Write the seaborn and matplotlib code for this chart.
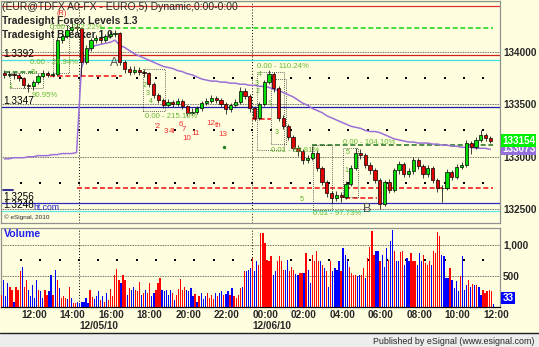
import numpy as np
import matplotlib
matplotlib.use("Agg")
import matplotlib.pyplot as plt
import matplotlib.transforms as mtransforms
from matplotlib.patches import Rectangle
from matplotlib.lines import Line2D
import seaborn as sns

sns.set_style("white")
plt.rcParams['font.family'] = ['Liberation Sans', 'DejaVu Sans']

# ---------------- data ----------------
first_open = 1.3380
close = [1.3378, 1.3379, 1.3378, 1.3375, 1.3368, 1.3367, 1.3371, 1.3377, 1.3380, 1.3378,
         1.3379, 1.3411, 1.3415, 1.3421, 1.3424, 1.3423, 1.3390, 1.3404, 1.3411, 1.3413,
         1.3411, 1.3415, 1.3417, 1.3418, 1.3390, 1.3384, 1.3381, 1.3383, 1.3381, 1.3380,
         1.3369, 1.3359, 1.3354, 1.3349, 1.3352, 1.3350, 1.3353, 1.3348, 1.3342, 1.3343,
         1.3346, 1.3351, 1.3353, 1.3356, 1.3354, 1.3350, 1.3345, 1.3349, 1.3352, 1.3363,
         1.3358, 1.3346, 1.3337, 1.3350, 1.3371, 1.3379, 1.3365, 1.3337, 1.3329, 1.3319,
         1.3308, 1.3305, 1.3297, 1.3299, 1.3304, 1.3289, 1.3276, 1.3265, 1.3261, 1.3264,
         1.3262, 1.3274, 1.3289, 1.3304, 1.3302, 1.3292, 1.3287, 1.3278, 1.3255, 1.3276,
         1.3268, 1.3287, 1.3293, 1.3284, 1.3286, 1.3297, 1.3291, 1.3284, 1.3289, 1.3278,
         1.3270, 1.3270, 1.3285, 1.3281, 1.3290, 1.3292, 1.3313, 1.3309, 1.3316, 1.3321,
         1.3318, 1.3315]
high = [1.3383, 1.3382, 1.3381, 1.3380, 1.3376, 1.3370, 1.3373, 1.3379, 1.3383, 1.3382,
        1.3381, 1.3414, 1.3418, 1.3425, 1.3430, 1.3427, 1.3424, 1.3406, 1.3413, 1.3416,
        1.3415, 1.3417, 1.3420, 1.3421, 1.3419, 1.3392, 1.3386, 1.3386, 1.3385, 1.3384,
        1.3381, 1.3371, 1.3361, 1.3356, 1.3355, 1.3354, 1.3356, 1.3355, 1.3349, 1.3346,
        1.3348, 1.3353, 1.3356, 1.3359, 1.3358, 1.3356, 1.3352, 1.3351, 1.3355, 1.3366,
        1.3365, 1.3360, 1.3348, 1.3352, 1.3373, 1.3383, 1.3381, 1.3367, 1.3340, 1.3331,
        1.3321, 1.3311, 1.3307, 1.3302, 1.3310, 1.3306, 1.3291, 1.3278, 1.3267, 1.3267,
        1.3266, 1.3277, 1.3292, 1.3308, 1.3307, 1.3304, 1.3295, 1.3289, 1.3280, 1.3278,
        1.3279, 1.3289, 1.3296, 1.3295, 1.3289, 1.3300, 1.3299, 1.3293, 1.3292, 1.3291,
        1.3280, 1.3273, 1.3288, 1.3287, 1.3293, 1.3295, 1.3316, 1.3315, 1.3319, 1.3325,
        1.3323, 1.3320]
low = [1.3375, 1.3376, 1.3374, 1.3372, 1.3365, 1.3362, 1.3364, 1.3369, 1.3375, 1.3376,
       1.3376, 1.3377, 1.3408, 1.3413, 1.3419, 1.3419, 1.3377, 1.3388, 1.3401, 1.3408,
       1.3408, 1.3409, 1.3413, 1.3414, 1.3387, 1.3380, 1.3378, 1.3379, 1.3378, 1.3376,
       1.3366, 1.3356, 1.3351, 1.3346, 1.3347, 1.3347, 1.3348, 1.3345, 1.3339, 1.3340,
       1.3341, 1.3344, 1.3349, 1.3351, 1.3351, 1.3347, 1.3341, 1.3343, 1.3347, 1.3350,
       1.3355, 1.3343, 1.3334, 1.3335, 1.3348, 1.3369, 1.3362, 1.3334, 1.3326, 1.3316,
       1.3305, 1.3301, 1.3293, 1.3294, 1.3297, 1.3286, 1.3273, 1.3262, 1.3256, 1.3258,
       1.3257, 1.3260, 1.3272, 1.3287, 1.3298, 1.3289, 1.3284, 1.3275, 1.3250, 1.3253,
       1.3265, 1.3266, 1.3284, 1.3281, 1.3281, 1.3284, 1.3288, 1.3280, 1.3281, 1.3275,
       1.3266, 1.3257, 1.3268, 1.3278, 1.3279, 1.3288, 1.3290, 1.3303, 1.3307, 1.3314,
       1.3315, 1.3313]
ma = [1.3298, 1.3298, 1.3299, 1.3299, 1.3299, 1.3300, 1.3300, 1.3301, 1.3301, 1.3301,
      1.3302, 1.3302, 1.3303, 1.3303, 1.3303, 1.3304, 1.3384, 1.3397, 1.3404, 1.3406,
      1.3407, 1.3408, 1.3409, 1.3411, 1.3406, 1.3404, 1.3401, 1.3398, 1.3396, 1.3394,
      1.3392, 1.3390, 1.3388, 1.3386, 1.3385, 1.3384, 1.3382, 1.3381, 1.3379, 1.3378,
      1.3376, 1.3374, 1.3373, 1.3372, 1.3372, 1.3371, 1.3371, 1.3370, 1.3370, 1.3369,
      1.3369, 1.3368, 1.3368, 1.3367, 1.3367, 1.3366, 1.3364, 1.3363, 1.3361, 1.3359,
      1.3357, 1.3354, 1.3351, 1.3349, 1.3346, 1.3344, 1.3342, 1.3339, 1.3337, 1.3335,
      1.3333, 1.3331, 1.3329, 1.3328, 1.3327, 1.3325, 1.3324, 1.3324, 1.3323, 1.3321,
      1.3319, 1.3317, 1.3316, 1.3315, 1.3314, 1.3314, 1.3313, 1.3313, 1.3313, 1.3312,
      1.3312, 1.3311, 1.3311, 1.3310, 1.3310, 1.3309, 1.3309, 1.3309, 1.3308, 1.3308,
      1.3308, 1.3307]

volume = [190, 435, 163, 380, 310, 270, 80, 325, 270, 570,
          650, 325, 435, 270, 163, 350, 135, 435, 270, 255,
          135, 270, 190, 245, 515, 190, 600, 435, 300, 135,
          163, 135, 120, 325, 135, 55, 55, 80, 55, 70,
          80, 135, 55, 270, 150, 125, 163, 255, 110, 163,
          80, 217, 110, 290, 163, 515, 615, 435, 380, 515,
          435, 190, 300, 270, 325, 270, 245, 400, 190, 217,
          270, 217, 380, 163, 217, 270, 380, 470, 270, 245,
          270, 190, 270, 217, 110, 190, 280, 450, 270, 310,
          270, 245, 300, 163, 200, 80, 163, 217, 125, 163,
          217, 135, 180, 125, 217, 163, 217, 255, 190, 200,
          245, 190, 300, 163, 135, 190, 300,
          310, 570, 580, 600, 625, 790, 570, 735, 680, 1195,
          1195, 1030, 760, 735, 815, 515, 570, 735, 815, 735,
          600, 600, 760, 570, 635, 600, 527, 515, 543, 543,
          543, 870, 600, 380, 840, 735, 895, 735, 735, 680,
          625, 570, 325, 745, 570, 625, 600, 735, 570, 950,
          840, 760, 650, 543, 515, 515, 500, 515, 515, 625,
          460, 790, 960, 1220, 840, 895, 895, 735, 840, 650,
          950, 760, 1060, 1250, 895, 735, 735, 885, 895, 680,
          790, 735, 870, 735, 745, 680, 870, 745, 840, 705,
          680, 735, 680, 895, 870, 1210, 1140, 840, 815, 460,
          460, 625, 435, 300, 407, 245, 490, 815, 270, 350,
          435, 325, 365, 350, 350, 325, 190, 270, 217, 255,
          270, 245, 33]
vol_dir = ("RBBBRRBRRR" "BRRBBBBBRB" "BRRBBRBRBR" "RRBRBRRBBB" "BBBRRBBBRB"
           "RBRRRRRRBR" "RBRBBRRRBR" "BRRBBRRRBB" "BBBRBRRRRR" "BBBBRBRBBB"
           "RRRRBRBBRB" "BRBRRRR"
           "BRBBBRBBRR" "RRRRRBBRRR" "RBBRRRBBRR" "BRBBRRRRBR" "BRBRBBBBRB"
           "BBRRRRBBRR" "BRRRRBBRBB" "BRBBRBBRRB" "BBRRRBBBRR" "RRBRRRRBBB"
           "BRBBBBRBBB" "RBRBRBBRRR" "RRB")

last_price = 1.33154
last_ma = 1.33073
last_volume = 33

time_labels = ["12:00", "14:00", "16:00", "18:00", "20:00", "22:00", "00:00",
               "02:00", "04:00", "06:00", "08:00", "10:00", "12:00"]
date_labels = ["12/05/10", "12/06/10"]
session_breaks = [48, 156]          # bar index where each date starts
price_ticks = [1.340, 1.335, 1.330, 1.325]
price_tick_labels = ["134000", "133500", "133000", "132500"]
vol_ticks = [1000, 500]
vol_tick_labels = ["1,000", "500"]

# horizontal levels
full_levels = [(1.3448, '#33CC33'), (1.3444, '#E03030'), (1.3397, '#D02020'),
               (1.3392, '#40E0E0'), (1.3347, '#1A1AB0'), (1.3256, '#2A2AC0'),
               (1.3248, '#60E8E8')]
seg_levels = [(1.3423, 61, 306, '#22DD22'), (1.3381, 2, 22, '#2E8B2E'),
              (1.3377, 30, 75, '#EE2020'), (1.3336, 156, 168, '#EE2020'),
              (1.3311, 193, 306, '#2E7D2E'), (1.3270, 47, 306, '#EE2020'),
              (1.3261, 214, 234, '#EE2020')]
left_level_labels = ["1.3392", "1.3347", "1.3256", "1.3248"]
left_level_values = [1.3392, 1.3347, 1.3256, 1.3248]

# ---------------- layout ----------------
W, H = 539, 347
BG = '#FFFFE0'
fig = plt.figure(figsize=(W / 100, H / 100), dpi=100, facecolor=BG)


def fbox(x0, y0, x1, y1):
    return [x0 / W, 1 - y1 / H, (x1 - x0) / W, (y1 - y0) / H]


XLIM = (-0.62, 310.5)
ax = fig.add_axes(fbox(1, 1, 500, 223))
axv = fig.add_axes(fbox(1, 228, 500, 307))
for a in (ax, axv):
    a.set_facecolor(BG)
    a.set_xlim(*XLIM)
    for s in a.spines.values():
        s.set_color('#909090')
        s.set_linewidth(0.9)
axv.spines['bottom'].set_color('black')
ax.set_ylim(1.323686, 1.344829)
axv.set_ylim(-8, 1276)

# ---------------- price panel ----------------
close = np.array(close)
high = np.array(high)
low = np.array(low)
cx = np.arange(len(close)) * 3 + 1.5
opens = np.r_[first_open, close[:-1]]
up = close >= opens

# grid
for p in price_ticks:
    ax.axhline(p, color='#404040', lw=0.6, ls=(0, (1, 1)), zorder=1)
dot_x = np.arange(12, 311, 12)
for p in [1.3375, 1.3325, 1.3275]:
    sns.scatterplot(x=dot_x, y=np.full(len(dot_x), p), ax=ax, color='black', s=1.0,
                    marker='s', linewidth=0, legend=False, zorder=1)
for b in session_breaks:
    for a in (ax, axv):
        a.axvline(b, color='black', lw=0.7, ls=(0, (1, 2)), zorder=1)

# levels
for p, c in full_levels:
    ax.axhline(p, color=c, lw=0.9, zorder=2)
for p, b0, b1, c in seg_levels:
    ax.hlines(p, b0, b1, color=c, lw=1.2, ls=(0, (3, 1.6)), zorder=2)

# dotted boxes
boxes = [(5, 25.6, 1.3365, 1.3380), (32, 42, 1.3380, 1.3425), (88, 101.6, 1.3344, 1.3384),
         (159, 176, 1.3306, 1.3381), (168, 177, 1.3312, 1.3374), (194, 206, 1.3249, 1.3311),
         (212.6, 222, 1.3262, 1.3308)]
for b0, b1, p0, p1 in boxes:
    ax.add_patch(Rectangle((b0, p0), b1 - b0, p1 - p0, fill=False, ec='#303030',
                           lw=0.6, ls=(0, (1, 1.5)), zorder=2))

# header texts (behind candles)
ax.text(2 / W, 1 - 7.5 / H, "(EUR@TDFX A0-FX - EURO,5) Dynamic,0:00-0:00",
        transform=fig.transFigure, fontsize=7.5, va='center', ha='left', zorder=2)
ax.text(2 / W, 1 - 21.5 / H, "Tradesight Forex Levels 1.3", transform=fig.transFigure,
        fontsize=7.4, fontweight='bold', va='center', ha='left', zorder=2)
ax.text(2 / W, 1 - 34.5 / H, "Tradesight Breaker 1.0", transform=fig.transFigure,
        fontsize=7.4, fontweight='bold', va='center', ha='left', zorder=2)

# moving average
sns.lineplot(x=cx, y=ma, ax=ax, color='#9C6FD8', lw=1.1, zorder=3, legend=False)

# candles
ax.vlines(cx, low, high, color='#202020', lw=0.6, zorder=4)
body_lo = np.minimum(opens, close)
body_h = np.maximum(np.abs(close - opens), 0.00004)
ax.bar(cx, body_h, bottom=body_lo, width=2.0, color=np.where(up, '#00DD00', '#E00000'),
       edgecolor='black', linewidth=0.5, zorder=5)

# annotations
GT = '#66B833'
for b, p, s in [(30, 1.3423, "0.00 - 222.22%"), (17.5, 1.3390, "0.00 - 26.94%"),
                (18.5, 1.3358, "90.95%"), (89, 1.3338, "0.00 - 215.10%"),
                (159, 1.3386, "0.00 - 110.24%"), (168, 1.3306, "0.01 - 98.81%"),
                (212.6, 1.3314, "0.00 - 104.10%"), (194, 1.3246, "0.01 - 97.73%")]:
    ax.text(b, p, s, color=GT, fontsize=5.6, va='center', ha='left', zorder=6)
for b, p, s in [(161, 1.3378, "4"), (159, 1.3370, "3"), (159.6, 1.3362, "2"),
                (167, 1.3351, "1"), (171, 1.3323, "3"), (215.7, 1.3304, "5"),
                (215, 1.3287, "1"), (187, 1.3259, "5"), (89, 1.3368, "2"), (91, 1.3360, "3"),
                (93, 1.3353, "4"), (5, 1.3367, "1"), (19, 1.3380, "3")]:
    ax.text(b, p, s, color='#55AA22', fontsize=5, va='center', ha='center', zorder=6)
ax.text(37.4, 1.3436, "(R)", color='#E02020', fontsize=5.3, va='center', ha='center', zorder=6)
for b, p, s in [(97.3, 1.3329, "'2"), (102, 1.3324, "3"), (106, 1.3324, "4l"),
                (111.6, 1.3331, "6"), (113.5, 1.3326, "7"), (115.3, 1.3317, "10"),
                (121, 1.3322, "11"), (130, 1.3332, "12"), (134.5, 1.3330, "th"),
                (138, 1.3321, "13")]:
    ax.text(b, p, s, color='#F03030', fontsize=5.8, va='center', ha='center', zorder=6)
sns.scatterplot(x=[138.4], y=[1.3309], ax=ax, color='#208020', s=6, linewidth=0,
                legend=False, zorder=6)
ax.text(70, 1.3389, "A", color='#505050', fontsize=9, va='center', ha='center', zorder=6)
ax.text(228, 1.3250, "B", color='#505050', fontsize=9, va='center', ha='center', zorder=6)

# left level labels
for s, p in zip(left_level_labels, left_level_values):
    ax.annotate(s, xy=(0, p), xycoords=('axes fraction', 'data'), xytext=(1.5, 1),
                textcoords='offset points', fontsize=7.2, va='bottom', ha='left',
                color='black', zorder=7)
ax.text(33 / W, 1 - 207 / H, "ht.com", transform=fig.transFigure, color='#2020D0',
        fontsize=6.2, va='center', ha='left', zorder=7)
ax.add_line(Line2D([3 / W, 13 / W], [1 - 189.5 / H] * 2, transform=fig.transFigure,
                   color='#1A1A90', lw=1.3, zorder=7))
ax.text(4 / W, 1 - 217 / H, "\u00a9 eSignal, 2010", transform=fig.transFigure,
        fontsize=4.6, va='center', ha='left', zorder=7)

# right price axis
ax.yaxis.tick_right()
ax.set_yticks(price_ticks, price_tick_labels)
ax.tick_params(axis='y', length=0, pad=2.2, labelsize=7.2)
for t in ax.get_yticklabels():
    t.set_fontweight('bold')
ax.set_xticks([])
blend = mtransforms.blended_transform_factory(ax.transAxes, ax.transData)
ax.text(1.004, last_ma, f"{last_ma * 100000:.0f}", transform=blend, color='white',
        fontsize=7.2, fontweight='bold', va='center', ha='left', clip_on=False, zorder=9,
        bbox=dict(boxstyle='square,pad=0.12', fc='#9370DB', ec='none'))
ax.text(1.004, last_price, f"{last_price * 100000:.0f}", transform=blend, color='white',
        fontsize=7.2, fontweight='bold', va='center', ha='left', clip_on=False, zorder=10,
        bbox=dict(boxstyle='square,pad=0.12', fc='#00F000', ec='none'))

# ---------------- volume panel ----------------
vx = np.linspace(-0.2, 306.3, len(volume))
vcol = ['#FF0000' if d == 'R' else '#0000FF' for d in vol_dir]
axv.axhline(1000, color='#404040', lw=0.6, ls=(0, (1, 1)), zorder=1)
axv.axhline(500, color='#404040', lw=0.6, ls=(0, (1, 1)), zorder=1)
sns.scatterplot(x=dot_x, y=np.full(len(dot_x), 750), ax=axv, color='black', s=1.0,
                marker='s', linewidth=0, legend=False, zorder=1)
axv.bar(vx, volume, width=0.8, color=vcol, linewidth=0, zorder=3)
axv.text(0.006, 0.93, "Volume", transform=axv.transAxes, color='#2020EE', fontsize=7.6,
         fontweight='bold', va='center', ha='left')
axv.yaxis.tick_right()
axv.set_yticks(vol_ticks, vol_tick_labels)
axv.tick_params(axis='y', length=0, pad=2.2, labelsize=7.2)
for t in axv.get_yticklabels():
    t.set_fontweight('bold')
bl2 = mtransforms.blended_transform_factory(axv.transAxes, axv.transData)
axv.text(1.005, last_volume + 20, f"{last_volume}", transform=bl2, color='white',
         fontsize=7.2, fontweight='bold', va='bottom', ha='left', clip_on=False, zorder=9,
         bbox=dict(boxstyle='square,pad=0.12', fc='#0000FF', ec='none'))

tick_bars = [12 + 24 * i for i in range(len(time_labels))]
axv.set_xticks(tick_bars, time_labels)
axv.tick_params(axis='x', length=0, pad=2.5, labelsize=7.2)
for t in axv.get_xticklabels():
    t.set_ha('left')
    t.set_fontweight('bold')
blx = mtransforms.blended_transform_factory(axv.transData, axv.transAxes)
for b, s in zip(session_breaks, date_labels):
    axv.text(b, -0.237, s, transform=blx, fontsize=7.2, fontweight='bold',
             va='center', ha='left')

# ---------------- bottom strip ----------------
fig.patches.append(Rectangle((0, 0), 1, 14 / H, transform=fig.transFigure,
                             fc='#EDEDED', ec='none', zorder=0))
fig.lines.append(Line2D([0, 1], [14 / H, 14 / H], transform=fig.transFigure,
                        color='#202020', lw=1.0))
fig.text(534 / W, 1 - 341 / H, "Published by eSignal (www.esignal.com)", fontsize=6.4,
         ha='right', va='center')

fig.savefig("out.png", dpi=100, facecolor=BG)
